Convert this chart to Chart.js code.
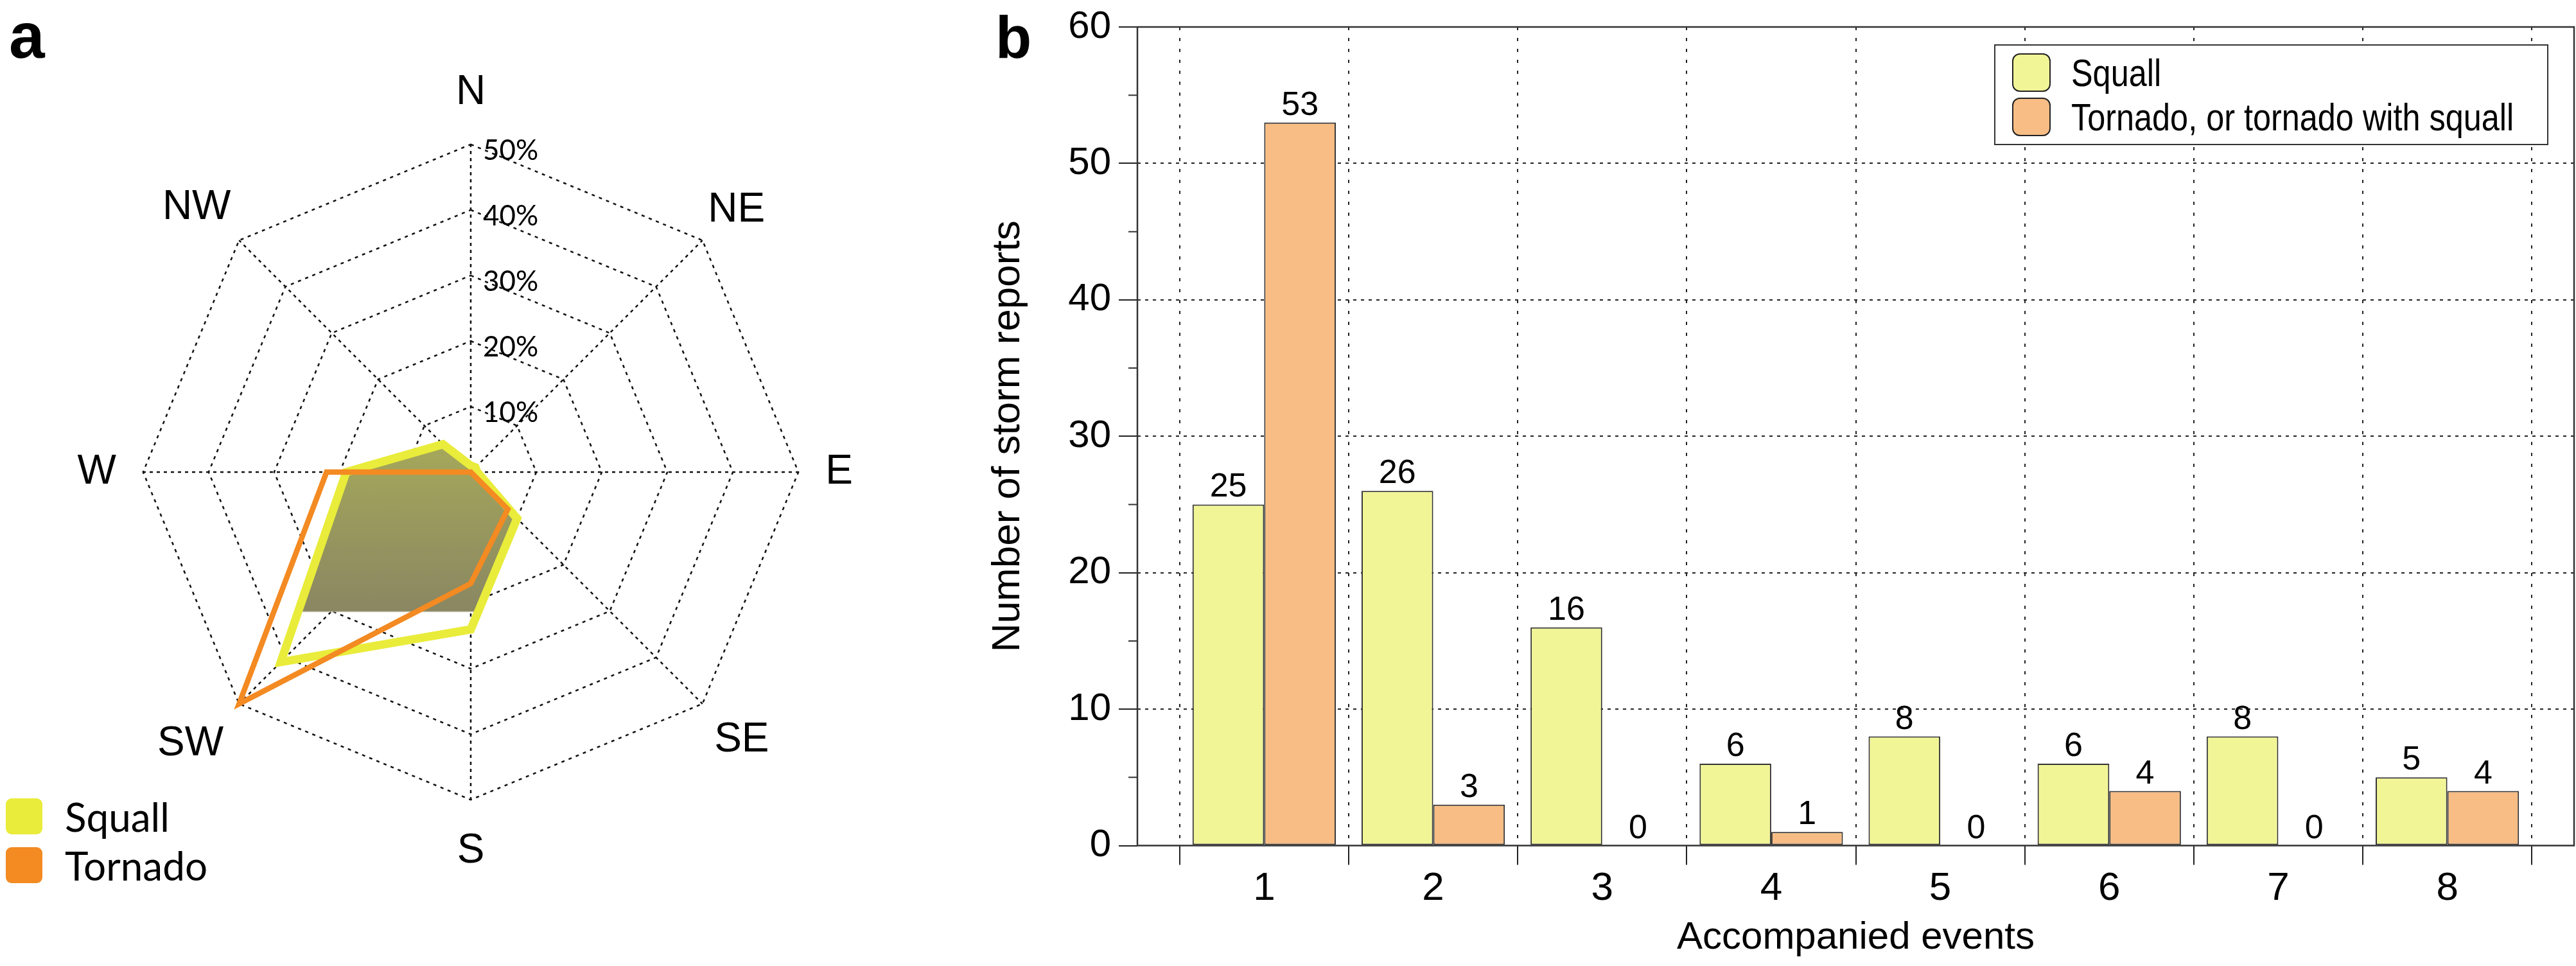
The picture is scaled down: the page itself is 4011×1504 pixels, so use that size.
<!DOCTYPE html>
<html>
<head>
<meta charset="utf-8">
<script src="https://cdn.jsdelivr.net/npm/chart.js@4.4.1/dist/chart.umd.min.js"></script>
<style>
    body { margin: 0; background: #fff; }
    #page { position: relative; width: 4011px; height: 1504px; overflow: hidden; background: #fff; }
    .box { position: absolute; }
    .letter { position: absolute; font-family: "Liberation Sans", Arial, sans-serif; font-weight: bold; line-height: 1; color: #000; }
    .rose-item { position: absolute; left: 9px; height: 56px; display: flex; align-items: center; }
    .rose-item .sw { width: 57px; height: 56px; border-radius: 9px; margin-right: 35px; }
    .rose-item span { font-family: Lato, "Open Sans", sans-serif; font-size: 62px; color: #000; }
    #barLegend { position: absolute; left: 3105px; top: 69px; width: 863px; height: 157px; box-sizing: border-box;
        border: 2px solid #333; background: #fff; }
    .bar-item { position: absolute; left: 26px; height: 60px; display: flex; align-items: center; white-space: nowrap; }
    .bar-item .sw { width: 60px; height: 60px; box-sizing: border-box; border: 2px solid #222; border-radius: 12px; margin-right: 32px; }
    .bar-item span { display: inline-block; font-family: "Liberation Sans", Arial, sans-serif; font-size: 60px; color: #000;
        transform: scaleX(0.84); transform-origin: left center; }
</style>
</head>
<body>
<div id="page">
    <div class="box" style="left:96px; top:106px; width:1258px; height:1258px;"><canvas id="roseChart"></canvas></div>
    <div class="box" style="left:1500px; top:0px; width:2511px; height:1504px;"><canvas id="barChart"></canvas></div>
    <div class="letter" style="left:14px; top:5px; font-size:100px;">a</div>
    <div class="letter" style="left:1550px; top:12px; font-size:92px;">b</div>
    <div id="roseLegend"></div>
    <div id="barLegend"></div>
</div>
<script>
const directions = ["N", "NE", "E", "SE", "S", "SW", "W", "NW"];
const squallShare = [1, 1, 1, 10, 24, 41, 19, 6];
const tornadoShare = [0, 0, 0, 8, 17, 50, 22, 0];
const roseTicks = [10, 20, 30, 40, 50];

const eventCounts = [1, 2, 3, 4, 5, 6, 7, 8];
const squallReports = [25, 26, 16, 6, 8, 6, 8, 5];
const tornadoReports = [53, 3, 0, 1, 0, 4, 0, 4];
const reportTicks = [0, 10, 20, 30, 40, 50, 60];
const reportMinorTicks = [5, 15, 25, 35, 45, 55];

const SANS = '"Liberation Sans", Arial, sans-serif';
const GILL = 'Lato, "Open Sans", sans-serif';

const roseColors = { squall: "#e9ec3a", tornado: "#f38a22" };
const barColors = { squall: "#f2f596", tornado: "#f7bd85" };

// the diagonal labels sit closer to the corners than N/E/S/W
const labelPadding = { N: 42, NE: 12, E: 42, SE: 26, S: 42, SW: 34, W: 42, NW: 18 };

Chart.defaults.font.family = SANS;
Chart.defaults.color = "#000";

// olive fill of the squall polygon, cut off flat below the centre like the original
function olivePaint(context) {
    const chart = context.chart;
    const r = chart.scales.r;
    if (!r || !chart.chartArea) return "rgba(160, 160, 90, 0.9)";
    const top = r.yCenter - r.getDistanceFromCenterForValue(8);
    const cut = r.yCenter + r.getDistanceFromCenterForValue(21.5);
    const g = chart.ctx.createLinearGradient(0, top, 0, cut);
    g.addColorStop(0, "#a9ad59");
    g.addColorStop(0.99, "#8a8762");
    g.addColorStop(1, "rgba(255, 255, 255, 0)");
    return g;
}

const roseTickLabels = {
    id: "roseTickLabels",
    afterDraw(chart) {
        const r = chart.scales.r;
        const ctx = chart.ctx;
        ctx.save();
        ctx.font = `44px ${GILL}`;
        ctx.fillStyle = "#000";
        ctx.textAlign = "left";
        ctx.textBaseline = "middle";
        roseTicks.forEach((v) => {
            const y = r.yCenter - r.getDistanceFromCenterForValue(v);
            ctx.fillText(`${v}%`, r.xCenter + 19, y + 10);
        });
        ctx.restore();
    }
};

function createRose() {
    new Chart(document.getElementById("roseChart"), {
        type: "radar",
        data: {
            labels: directions,
            datasets: [
                {
                    label: "Squall",
                    data: squallShare,
                    borderColor: roseColors.squall,
                    borderWidth: 13,
                    backgroundColor: olivePaint,
                    fill: true,
                    order: 2
                },
                {
                    label: "Tornado",
                    data: tornadoShare,
                    borderColor: roseColors.tornado,
                    borderWidth: 8.5,
                    backgroundColor: "rgba(0, 0, 0, 0)",
                    fill: false,
                    order: 1
                }
            ]
        },
        options: {
            responsive: true,
            maintainAspectRatio: false,
            animation: false,
            layout: { padding: 0 },
            elements: {
                line: { tension: 0, borderJoinStyle: "miter" },
                point: { radius: 0, hoverRadius: 0 }
            },
            plugins: { legend: { display: false }, tooltip: { enabled: false } },
            scales: {
                r: {
                    min: 0,
                    max: roseTicks[roseTicks.length - 1],
                    ticks: { stepSize: roseTicks[0], display: false },
                    grid: { circular: false, color: "#111", lineWidth: 2.5 },
                    border: { dash: [5, 7] },
                    angleLines: { color: "#111", lineWidth: 2.5, borderDash: [5, 6] },
                    pointLabels: {
                        font: { family: SANS, size: 64 },
                        color: "#000",
                        padding: (c) => labelPadding[directions[c.index]]
                    }
                }
            }
        },
        plugins: [roseTickLabels]
    });
}

const barDecor = {
    id: "barDecor",
    afterDatasetsDraw(chart) {
        const { ctx, chartArea: a } = chart;
        const y = chart.scales.y;
        ctx.save();

        ctx.font = `52px ${SANS}`;
        ctx.fillStyle = "#000";
        ctx.textAlign = "center";
        ctx.textBaseline = "alphabetic";
        chart.data.datasets.forEach((ds, i) => {
            chart.getDatasetMeta(i).data.forEach((bar, j) => {
                ctx.fillText(String(ds.data[j].y), bar.x, bar.y - 12);
            });
        });

        ctx.strokeStyle = "#333";
        ctx.lineWidth = 2.5;
        ctx.strokeRect(a.left, a.top, a.right - a.left, a.bottom - a.top);

        ctx.lineWidth = 2;
        ctx.beginPath();
        reportMinorTicks.forEach((v) => {
            const py = y.getPixelForValue(v);
            ctx.moveTo(a.left - 14, py);
            ctx.lineTo(a.left, py);
        });
        ctx.stroke();
        ctx.restore();
    }
};

function createBars() {
    new Chart(document.getElementById("barChart"), {
        type: "bar",
        data: {
            datasets: [
                {
                    label: "Squall",
                    data: eventCounts.map((x, i) => ({ x, y: squallReports[i] })),
                    backgroundColor: barColors.squall,
                    borderColor: "#333",
                    borderWidth: 2,
                    borderSkipped: false
                },
                {
                    label: "Tornado, or tornado with squall",
                    data: eventCounts.map((x, i) => ({ x, y: tornadoReports[i] })),
                    backgroundColor: barColors.tornado,
                    borderColor: "#333",
                    borderWidth: 2,
                    borderSkipped: false
                }
            ]
        },
        options: {
            responsive: true,
            maintainAspectRatio: false,
            animation: false,
            categoryPercentage: 0.848,
            barPercentage: 1,
            layout: { padding: { top: 32, right: 3, left: 0, bottom: 0 } },
            plugins: { legend: { display: false }, tooltip: { enabled: false } },
            scales: {
                x: {
                    type: "linear",
                    offset: false,
                    min: eventCounts[0] - 0.75,
                    max: eventCounts[eventCounts.length - 1] + 0.75,
                    afterBuildTicks: (scale) => {
                        scale.ticks = eventCounts.map((v) => ({ value: v }));
                    },
                    afterFit: (scale) => { scale.height = 187.5; },
                    grid: {
                        offset: true,
                        color: "#222",
                        lineWidth: 2,
                        tickLength: 30,
                        tickColor: "#222",
                        tickWidth: 2,
                        tickBorderDash: []
                    },
                    border: { display: false, dash: [5, 12] },
                    ticks: {
                        font: { family: SANS, size: 62, lineHeight: 1 },
                        color: "#000",
                        padding: 6,
                        autoSkip: false,
                        maxRotation: 0
                    },
                    title: {
                        display: true,
                        text: "Accompanied events",
                        font: { family: SANS, size: 60 },
                        color: "#000",
                        padding: { top: 0, bottom: 8 }
                    }
                },
                y: {
                    min: reportTicks[0],
                    max: reportTicks[reportTicks.length - 1],
                    afterBuildTicks: (scale) => {
                        scale.ticks = reportTicks.map((v) => ({ value: v }));
                    },
                    afterFit: (scale) => { scale.width = 271; },
                    grid: {
                        color: (c) => (c.tick && (c.tick.value === reportTicks[0] || c.tick.value === reportTicks[reportTicks.length - 1]))
                            ? "rgba(0, 0, 0, 0)" : "#222",
                        lineWidth: 2,
                        tickLength: 29,
                        tickColor: "#222",
                        tickWidth: 2,
                        tickBorderDash: []
                    },
                    border: { display: false, dash: [5, 7] },
                    ticks: {
                        font: { family: SANS, size: 60, lineHeight: 1 },
                        color: "#000",
                        padding: 12
                    },
                    title: {
                        display: true,
                        text: "Number of storm reports",
                        font: { family: SANS, size: 62 },
                        color: "#000",
                        padding: { top: 33, bottom: 0 }
                    }
                }
            }
        },
        plugins: [barDecor]
    });
}

function renderLegends() {
    const rose = document.getElementById("roseLegend");
    rose.innerHTML = [
        { name: "Squall", color: roseColors.squall, top: 1243 },
        { name: "Tornado", color: roseColors.tornado, top: 1319 }
    ].map((item) => `
        <div class="rose-item" style="top:${item.top}px">
            <div class="sw" style="background:${item.color}"></div><span>${item.name}</span>
        </div>
    `).join("");

    const bars = document.getElementById("barLegend");
    bars.innerHTML = [
        { name: "Squall", color: barColors.squall, top: 12 },
        { name: "Tornado, or tornado with squall", color: barColors.tornado, top: 81 }
    ].map((item) => `
        <div class="bar-item" style="top:${item.top}px">
            <div class="sw" style="background:${item.color}"></div><span>${item.name}</span>
        </div>
    `).join("");
}

renderLegends();
createRose();
createBars();
</script>
</body>
</html>
